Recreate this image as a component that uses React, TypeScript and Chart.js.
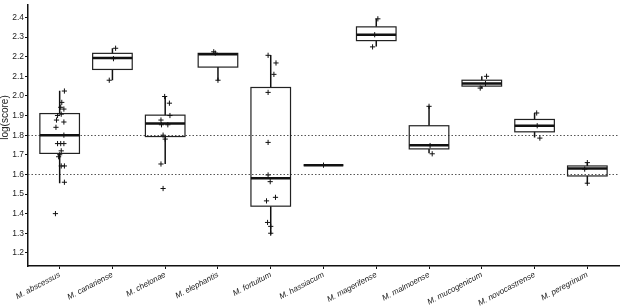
import { useEffect, useRef } from "react";
import { Chart, registerables } from "chart.js";
Chart.register(...registerables);

const categories = [
  "M. abscessus", "M. canariense", "M. chelonae", "M. elephantis", "M. fortuitum",
  "M. hassiacum", "M. magerifense", "M. malmoense", "M. mucogenicum", "M. novocastrense", "M. peregrinum",
];

const whiskerLow = [1.555, 2.08, 1.653, 2.078, 1.293, 1.647, 2.252, 1.708, 2.038, 1.788, 1.552];
const quartile1 = [1.707, 2.135, 1.793, 2.147, 1.438, 1.647, 2.282, 1.73, 2.05, 1.817, 1.592];
const medians = [1.80, 2.193, 1.86, 2.212, 1.58, 1.647, 2.312, 1.748, 2.063, 1.848, 1.63];
const quartile3 = [1.91, 2.217, 1.902, 2.217, 2.043, 1.647, 2.352, 1.848, 2.08, 1.88, 1.643];
const whiskerHigh = [2.027, 2.243, 1.997, 2.217, 2.208, 1.647, 2.393, 1.95, 2.10, 1.913, 1.663];

const abscessusScores = [2.025, 1.967, 1.942, 1.933, 1.90, 1.907, 1.877, 1.867, 1.84, 1.80, 1.757, 1.757, 1.757, 1.72, 1.70, 1.69, 1.643, 1.643, 1.56, 1.40];
const abscessusJitter = [0.09, 0.04, 0.02, 0.08, -0.04, 0.03, -0.06, 0.08, -0.07, 0.08, -0.04, 0.02, 0.08, 0.03, 0, -0.02, 0.03, 0.09, 0.09, -0.08];
const canarienseScores = [2.243, 2.19, 2.08];
const canarienseJitter = [0.06, 0.02, -0.06];
const chelonaeScores = [1.997, 1.963, 1.90, 1.877, 1.853, 1.853, 1.80, 1.78, 1.653, 1.528];
const chelonaeJitter = [-0.01, 0.08, 0.09, -0.08, -0.07, 0.05, -0.04, 0, -0.08, -0.04];
const elephantisScores = [2.225, 2.218, 2.08];
const elephantisJitter = [-0.08, -0.05, 0];
const fortuitumScores = [2.207, 2.168, 2.11, 2.018, 1.763, 1.597, 1.563, 1.465, 1.483, 1.355, 1.335, 1.30];
const fortuitumJitter = [-0.05, 0.1, 0.06, -0.05, -0.05, -0.05, -0.01, -0.08, 0.09, -0.06, 0, 0];
const hassiacumScores = [1.647];
const hassiacumJitter = [0];
const magerifenseScores = [2.393, 2.312, 2.25];
const magerifenseJitter = [0.03, -0.03, -0.07];
const malmoenseScores = [1.947, 1.747, 1.705];
const malmoenseJitter = [0, 0.02, 0.06];
const mucogenicumScores = [2.10, 2.063, 2.04];
const mucogenicumJitter = [0.09, 0.07, -0.03];
const novocastrenseScores = [1.913, 1.848, 1.785];
const novocastrenseJitter = [0.04, 0.05, 0.1];
const peregrinumScores = [1.66, 1.627, 1.555];
const peregrinumJitter = [0, -0.05, 0];

const sampleScores = [abscessusScores, canarienseScores, chelonaeScores, elephantisScores, fortuitumScores, hassiacumScores, magerifenseScores, malmoenseScores, mucogenicumScores, novocastrenseScores, peregrinumScores];
const sampleJitter = [abscessusJitter, canarienseJitter, chelonaeJitter, elephantisJitter, fortuitumJitter, hassiacumJitter, magerifenseJitter, malmoenseJitter, mucogenicumJitter, novocastrenseJitter, peregrinumJitter];

const yTicks = [1.2, 1.3, 1.4, 1.5, 1.6, 1.7, 1.8, 1.9, 2.0, 2.1, 2.2, 2.3, 2.4];
const referenceLines = [1.8, 1.6];
const yTitle = "log(score)";

export default function App() {
  const ref = useRef<HTMLCanvasElement>(null);
  useEffect(() => {
    document.body.style.margin = "0";
    const points: { x: number; y: number }[] = [];
    sampleScores.forEach((arr, i) => arr.forEach((v, j) => points.push({ x: i + sampleJitter[i][j], y: v })));

    const boxPlugin = {
      id: "boxes",
      beforeDatasetsDraw(chart: any) {
        const { ctx, chartArea, scales } = chart;
        const x = scales.x, y = scales.y;
        ctx.save();
        ctx.strokeStyle = "#555";
        ctx.lineWidth = 1;
        ctx.setLineDash([1.5, 2]);
        referenceLines.forEach((v) => {
          const py = Math.round(y.getPixelForValue(v)) + 0.5;
          ctx.beginPath();
          ctx.moveTo(chartArea.left, py);
          ctx.lineTo(chartArea.right, py);
          ctx.stroke();
        });
        ctx.setLineDash([]);
        const half = (x.getPixelForValue(1) - x.getPixelForValue(0)) * 0.375;
        categories.forEach((_, i) => {
          const cx = x.getPixelForValue(i);
          const pLo = y.getPixelForValue(whiskerLow[i]);
          const pQ1 = y.getPixelForValue(quartile1[i]);
          const pMed = y.getPixelForValue(medians[i]);
          const pQ3 = y.getPixelForValue(quartile3[i]);
          const pHi = y.getPixelForValue(whiskerHigh[i]);
          ctx.strokeStyle = "#111";
          ctx.lineWidth = 1.5;
          ctx.beginPath();
          ctx.moveTo(cx, pQ3);
          ctx.lineTo(cx, pHi);
          ctx.moveTo(cx, pQ1);
          ctx.lineTo(cx, pLo);
          ctx.stroke();
          ctx.lineWidth = 1.2;
          ctx.strokeStyle = "#222";
          ctx.strokeRect(cx - half, pQ3, half * 2, pQ1 - pQ3);
          ctx.lineWidth = 2.5;
          ctx.strokeStyle = "#111";
          ctx.beginPath();
          ctx.moveTo(cx - half, pMed);
          ctx.lineTo(cx + half, pMed);
          ctx.stroke();
        });
        ctx.restore();
      },
      afterDraw(chart: any) {
        const { ctx, chartArea } = chart;
        ctx.save();
        ctx.translate(5.5, 117.5);
        ctx.rotate(-Math.PI / 2);
        ctx.font = "10px 'Liberation Sans', Arial, sans-serif";
        ctx.fillStyle = "#222";
        ctx.textAlign = "center";
        ctx.textBaseline = "middle";
        ctx.fillText(yTitle, 0, 0);
        ctx.restore();
      },
    };

    const chart = new Chart(ref.current as HTMLCanvasElement, {
      type: "scatter",
      data: {
        datasets: [
          {
            data: points,
            pointStyle: "cross",
            pointRadius: 2.6,
            borderWidth: 1,
            borderColor: "#111",
            backgroundColor: "#111",
          },
        ],
      },
      options: {
        animation: false,
        responsive: true,
        maintainAspectRatio: false,
        layout: { padding: 0 },
        plugins: { legend: { display: false }, tooltip: { enabled: false } },
        scales: {
          x: {
            type: "linear",
            min: -0.6,
            max: 10.6,
            afterBuildTicks(s: any) {
              s.ticks = categories.map((_, i) => ({ value: i }));
            },
            afterFit(s: any) {
              s.height = 40;
              s.paddingLeft = 0;
              s.paddingRight = 0;
            },
            ticks: {
              autoSkip: false,
              minRotation: 28,
              maxRotation: 28,
              padding: 1,
              color: "#222",
              font: { family: "'Liberation Sans', Arial, sans-serif", size: 8, style: "italic" },
              callback: (v: any) => categories[v as number] ?? "",
            },
            grid: { drawOnChartArea: false, drawTicks: true, tickLength: 3, color: "#111", lineWidth: 1 },
            border: { display: true, color: "#111", width: 1.5 },
          },
          y: {
            type: "linear",
            min: 1.133,
            max: 2.4635,
            afterBuildTicks(s: any) {
              s.ticks = yTicks.map((v) => ({ value: v }));
            },
            afterFit(s: any) {
              s.width = 28;
              s.paddingTop = 0;
              s.paddingBottom = 0;
            },
            ticks: {
              padding: 1,
              color: "#222",
              font: { family: "'Liberation Sans', Arial, sans-serif", size: 8.5 },
              callback: (v: any) => Number(v).toFixed(1),
            },
            grid: { drawOnChartArea: false, drawTicks: true, tickLength: 3, color: "#111", lineWidth: 1 },
            border: { display: true, color: "#111", width: 1.5 },
          },
        },
      },
      plugins: [boxPlugin],
    });
    return () => chart.destroy();
  }, []);
  return (
    <div style={{ width: 624, height: 306, position: "relative" }}>
      <canvas ref={ref} />
    </div>
  );
}
